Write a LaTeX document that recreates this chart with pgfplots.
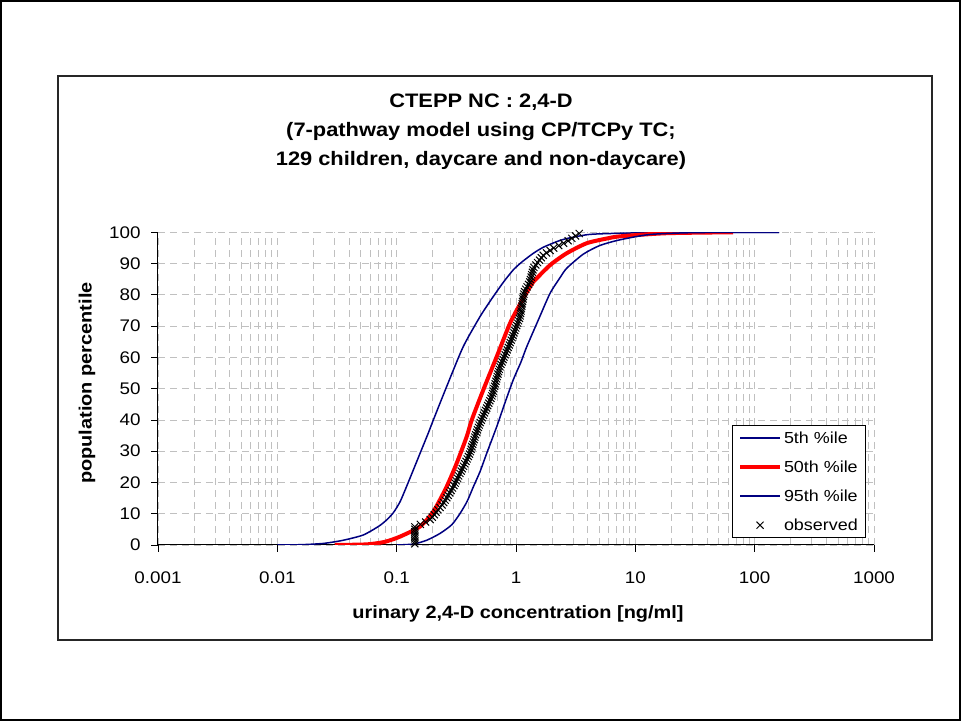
\documentclass[border=0pt]{standalone}
\usepackage{pgfplots}
\pgfplotsset{compat=1.18}
\usepackage{fontspec}
\setmainfont[FakeStretch=1.12]{Liberation Sans}
\definecolor{navyline}{RGB}{0,0,128}
\definecolor{gridgray}{RGB}{192,192,192}

\begin{document}
\begin{tikzpicture}[x=1bp,y=1bp]
% page and chart frames
\draw[line width=2bp] (1,1) rectangle (960,720);
\draw[line width=1.2bp, black!85] (58,81) rectangle (932,645);
% title
\node[anchor=base, font=\fontsize{19.5bp}{23bp}\selectfont\bfseries] at (481,613) {CTEPP NC : 2,4-D};
\node[anchor=base, font=\fontsize{19.5bp}{23bp}\selectfont\bfseries] at (481,584) {(7-pathway model using CP/TCPy TC;};
\node[anchor=base, font=\fontsize{19.5bp}{23bp}\selectfont\bfseries] at (481,555) {129 children, daycare and non-daycare)};
% axis titles
\node[anchor=base, font=\fontsize{17.8bp}{21bp}\selectfont\bfseries] at (518,102) {urinary 2,4-D concentration [ng/ml]};
\node[rotate=90, font=\fontsize{17.8bp}{21bp}\selectfont\bfseries] at (87,338) {population percentile};

\begin{axis}[
  at={(158bp,176bp)}, anchor=south west,
  scale only axis, width=716bp, height=312.7bp,
  xmode=log, xmin=0.001, xmax=1000,
  ymin=0, ymax=100, enlargelimits=false,
  xtick={0.001,0.01,0.1,1,10,100,1000},
  xticklabels={0.001,0.01,0.1,1,10,100,1000},
  ytick={0,10,...,100},
  /pgf/number format/assume math mode=true,
  axis x line*=bottom, axis y line*=left,
  axis line style={-, line width=1bp},
  tick align=outside, major tick length=7bp, minor tick length=0pt,
  tick style={black, line width=0.8bp},
  xmajorgrids, xminorgrids, ymajorgrids,
  major grid style={gridgray, line width=0.8bp, dash pattern=on 7bp off 5bp},
  minor grid style={gridgray, line width=0.8bp, dash pattern=on 7bp off 5bp},
  ticklabel style={font=\fontsize{16.8bp}{20bp}\selectfont},
  xticklabel style={yshift=-16bp},
  yticklabel style={xshift=-7bp},
  legend style={at={(0.989,0.022)}, anchor=south east, draw=black, line width=0.8bp,
    font=\fontsize{16bp}{19bp}\selectfont, row sep=12bp, inner xsep=6bp, inner ysep=4bp},
  legend cell align=left,
  legend image code/.code={\draw[mark repeat=2, mark phase=2, #1] plot coordinates {(0bp,0bp) (20bp,0bp) (40bp,0bp)};},
]
% 5th %ile
\addplot[navyline, line width=1.5bp, smooth, tension=0.4] coordinates {
(0.01,0) (0.0158,0.1) (0.0243,0.5) (0.0355,1.5) (0.0525,3.2) (0.0708,6.0) (0.0818,7.9)
(0.0937,10.3) (0.107,13.9) (0.125,20) (0.157,29.3) (0.185,36) (0.203,40) (0.262,50.6)
(0.361,63.4) (0.499,73.0) (0.62,78.5) (0.783,84) (0.95,88) (1.12,90.5) (1.40,93.3)
(1.69,95.2) (2.19,97.0) (2.66,98.0) (3.89,99.2) (5.06,99.5) (10,99.8) (30,99.95) (160,100)};
% 50th %ile
\addplot[red, line width=4bp, smooth, tension=0.4] coordinates {
(0.0304,0) (0.0562,0.2) (0.0794,1.0) (0.107,2.7) (0.157,5.9) (0.203,10.7) (0.262,18.6)
(0.318,26.1) (0.386,34.6) (0.426,40) (0.532,49.6) (0.689,60.2) (0.891,70.9) (1.08,77)
(1.31,82.6) (1.40,84.2) (1.93,89.5) (2.66,93.3) (3.91,96.5) (5.75,98.0) (7.45,98.7)
(18.2,99.7) (66,100)};
% 95th %ile
\addplot[navyline, line width=1.5bp, smooth, tension=0.4] coordinates {
(0.1,0) (0.138,0.3) (0.178,1.5) (0.231,3.7) (0.29,6.5) (0.34,10.1) (0.39,14) (0.439,18.6)
(0.50,23.5) (0.568,29.3) (0.689,37.8) (0.80,45) (0.948,52.8) (1.10,58.5) (1.23,63.4)
(1.54,72) (1.93,80.5) (2.34,85.5) (2.66,88.5) (3.66,93) (5.06,95.8) (7.45,97.6)
(13.3,99.3) (31.6,99.9) (160,100)};
% observed
\addplot[only marks, mark=x, mark size=5bp, black, line width=1bp] coordinates {
(0.142,0.39) (0.142,1.16) (0.142,1.94) (0.142,2.71) (0.142,3.49) (0.142,4.26)
(0.142,5.04) (0.142,5.81) (0.158,6.59) (0.175,7.36) (0.191,8.14) (0.199,8.91)
(0.207,9.69) (0.214,10.47) (0.222,11.24) (0.231,12.02) (0.240,12.79) (0.248,13.57)
(0.255,14.34) (0.263,15.12) (0.270,15.89) (0.278,16.67) (0.286,17.44) (0.294,18.22)
(0.302,18.99) (0.309,19.77) (0.316,20.54) (0.324,21.32) (0.331,22.09) (0.339,22.87)
(0.347,23.64) (0.355,24.42) (0.363,25.19) (0.372,25.97) (0.381,26.74) (0.390,27.52)
(0.399,28.29) (0.408,29.07) (0.415,29.84) (0.421,30.62) (0.427,31.39) (0.434,32.17)
(0.440,32.95) (0.446,33.72) (0.452,34.50) (0.459,35.27) (0.468,36.05) (0.475,36.82)
(0.484,37.60) (0.492,38.37) (0.501,39.15) (0.512,39.92) (0.522,40.70) (0.533,41.47)
(0.545,42.25) (0.556,43.02) (0.568,43.80) (0.579,44.57) (0.592,45.35) (0.604,46.12)
(0.617,46.90) (0.628,47.67) (0.637,48.45) (0.644,49.22) (0.653,50.00) (0.662,50.78)
(0.670,51.55) (0.679,52.33) (0.689,53.10) (0.697,53.88) (0.706,54.65) (0.716,55.43)
(0.724,56.20) (0.735,56.98) (0.748,57.75) (0.764,58.53) (0.780,59.30) (0.794,60.08)
(0.811,60.85) (0.828,61.63) (0.844,62.40) (0.861,63.18) (0.879,63.95) (0.895,64.73)
(0.912,65.50) (0.929,66.28) (0.944,67.05) (0.962,67.83) (0.979,68.60) (0.995,69.38)
(1.014,70.16) (1.033,70.93) (1.050,71.71) (1.069,72.48) (1.084,73.26) (1.092,74.03)
(1.102,74.81) (1.109,75.58) (1.119,76.36) (1.127,77.13) (1.135,77.91) (1.146,78.68)
(1.153,79.46) (1.164,80.23) (1.178,81.01) (1.208,81.78) (1.239,82.56) (1.274,83.33)
(1.306,84.11) (1.321,84.88) (1.340,85.66) (1.355,86.43) (1.371,87.21) (1.387,87.98)
(1.413,88.76) (1.466,89.53) (1.517,90.31) (1.574,91.09) (1.629,91.86) (1.690,92.64)
(1.803,93.41) (1.932,94.19) (2.070,94.96) (2.280,95.74) (2.506,96.51) (2.735,97.29)
(2.938,98.06) (3.155,98.84) (3.388,99.61)};
\legend{5th \%ile, 50th \%ile, 95th \%ile, observed}
\end{axis}
\end{tikzpicture}
\end{document}
